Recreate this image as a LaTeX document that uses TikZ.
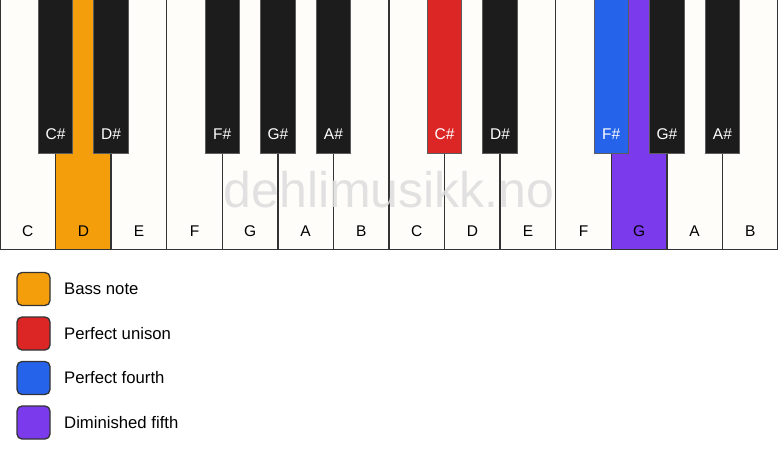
\documentclass[tikz,border=0pt]{standalone}
\usepackage{fontspec}
\setmainfont{Liberation Sans}
\definecolor{wkey}{HTML}{FFFDF9}
\definecolor{bkey}{HTML}{1C1C1C}
\definecolor{edge}{HTML}{333333}
\definecolor{bass}{HTML}{F59E0B}
\definecolor{unison}{HTML}{DC2626}
\definecolor{fourth}{HTML}{2563EB}
\definecolor{dimfifth}{HTML}{7C3AED}
\definecolor{wmark}{HTML}{DDDDDD}
\begin{document}
\begin{tikzpicture}[x=1pt,y=-1pt,
  whitekey/.style={draw=edge,line width=1.5pt,fill=wkey},
  blackkey/.style={draw=edge!80!white,line width=1pt,fill=bkey},
  wlabel/.style={font=\fontsize{15.5}{15.5}\selectfont,text=black,anchor=base,inner sep=0pt},
  blabel/.style={font=\fontsize{15.5}{15.5}\selectfont,text=white,anchor=base,inner sep=0pt},
  legbox/.style={draw=edge,line width=1.3pt,rounded corners=5pt,minimum width=33pt,minimum height=33pt,inner sep=0pt},
  legtext/.style={font=\fontsize{16.7}{16.7}\selectfont,anchor=west,inner sep=0pt}]
\useasboundingbox (0,0) rectangle (778,461);
\fill[white] (0,0) rectangle (778,461);
\def\kw{55.571}
% white keys
\foreach \n/\i/\c in {C/0/wkey,D/1/bass,E/2/wkey,F/3/wkey,G/4/wkey,A/5/wkey,B/6/wkey,C/7/wkey,D/8/wkey,E/9/wkey,F/10/wkey,G/11/dimfifth,A/12/wkey,B/13/wkey}{
  \path[whitekey,fill=\c] (\i*\kw,-2) rectangle ({(\i+1)*\kw},249.5);
  \node[wlabel] (w\i) at ({(\i+0.5)*\kw},236) {\n};
}
% watermark
\node[font=\fontsize{50}{50}\selectfont,text=wmark,opacity=0.85,anchor=base,inner sep=0pt] (wm) at (389,207) {dehlimusikk.no};
% black keys
\foreach \n/\i/\c in {C\#/1/bkey,D\#/2/bkey,F\#/4/bkey,G\#/5/bkey,A\#/6/bkey,C\#/8/unison,D\#/9/bkey,F\#/11/fourth,G\#/12/bkey,A\#/13/bkey}{
  \path[blackkey,fill=\c] ({\i*\kw-17.2},-2) rectangle ({\i*\kw+17.2},153);
  \node[blabel] (b\i) at ({\i*\kw},139) {\n};
}
% legend
\foreach \t/\c/\y [count=\k] in {Bass note/bass/289,Perfect unison/unison/333.5,Perfect fourth/fourth/378,Diminished fifth/dimfifth/422.5}{
  \node[legbox,fill=\c] (lb\k) at (33.5,\y) {};
  \node[legtext] (lt\k) at (64,\y) {\t};
}
\end{tikzpicture}
\end{document}
